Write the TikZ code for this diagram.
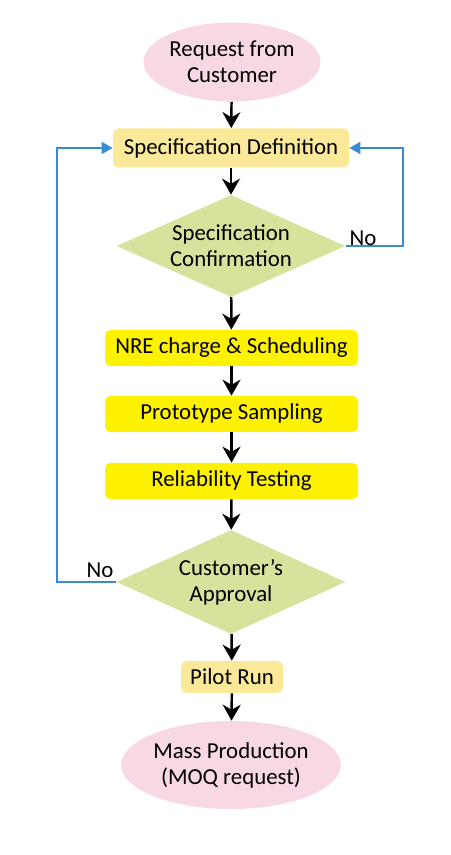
\documentclass[tikz,border=0pt]{standalone}
\usepackage{fontspec}
\setmainfont{Carlito}
\usepackage{tikz}
\usetikzlibrary{positioning,arrows.meta,shapes.geometric}
\definecolor{pinkfill}{HTML}{F8D8E4}
\definecolor{paleyel}{HTML}{FBE99A}
\definecolor{brightyel}{HTML}{FFF200}
\definecolor{leafgreen}{HTML}{D7E39C}
\definecolor{loopblue}{HTML}{3A8AD2}

\begin{document}
\begin{tikzpicture}[font=\fontsize{13}{14.8}\selectfont,
  term/.style={ellipse,fill=pinkfill,align=center,inner sep=0pt},
  stepbox/.style={rectangle,rounded corners=3pt,fill=paleyel,align=center,inner sep=0pt},
  hot/.style={stepbox,fill=brightyel,minimum width=5.06cm,minimum height=0.72cm},
  check/.style={diamond,shape aspect=2.25,fill=leafgreen,align=center,inner sep=0pt,minimum width=4.58cm},
  flow/.style={-{Stealth[length=3.2mm,width=3.6mm]},line width=1.4pt,black},
  back/.style={-{Triangle[length=2.2mm,width=2.4mm]},line width=1pt,loopblue}]
\useasboundingbox (0,0) rectangle (9,17.1);
% start / end
\node[term,minimum width=3.42cm,minimum height=1.58cm] (req) at (4.64,15.86) {Request from\\Customer};
\node[term,minimum width=3.86cm,minimum height=1.76cm] (mass) at (4.62,1.80) {Mass Production\\(MOQ request)};
% process steps
\node[stepbox,minimum width=4.72cm,minimum height=0.78cm] (spec) at (4.62,14.14) {Specification Definition};
\node[check,minimum height=2.04cm] (conf) at (4.62,12.18) {Specification\\Confirmation};
\node[hot] (nre) at (4.63,10.14) {NRE charge \& Scheduling};
\node[hot] (proto) at (4.63,8.82) {Prototype Sampling};
\node[hot] (rel) at (4.63,7.48) {Reliability Testing};
\node[check,minimum height=2.08cm] (appr) at (4.62,5.46) {Customer’s\\Approval};
\node[stepbox,minimum width=2.04cm,minimum height=0.64cm] (pilot) at (4.64,3.56) {Pilot Run};
% main flow
\draw[flow] (req) -- (spec);
\draw[flow] (spec) -- (conf);
\draw[flow] (conf) -- (nre);
\draw[flow] (nre) -- (proto);
\draw[flow] (proto) -- (rel);
\draw[flow] (rel) -- (appr);
\draw[flow] (appr) -- (pilot);
\draw[flow] (pilot) -- (mass);
% rework loops
\coordinate (rloop) at (8.06,12.08);
\coordinate (lloop) at (1.14,5.40);
\draw[back] (conf.east) -- (conf.east -| rloop) |- (spec.east);
\draw[back] (appr.west) -- (appr.west -| lloop) |- (spec.west);
\node (noR) at (7.26,12.34) {No};
\node (noL) at (2.00,5.70) {No};
\end{tikzpicture}
\end{document}
